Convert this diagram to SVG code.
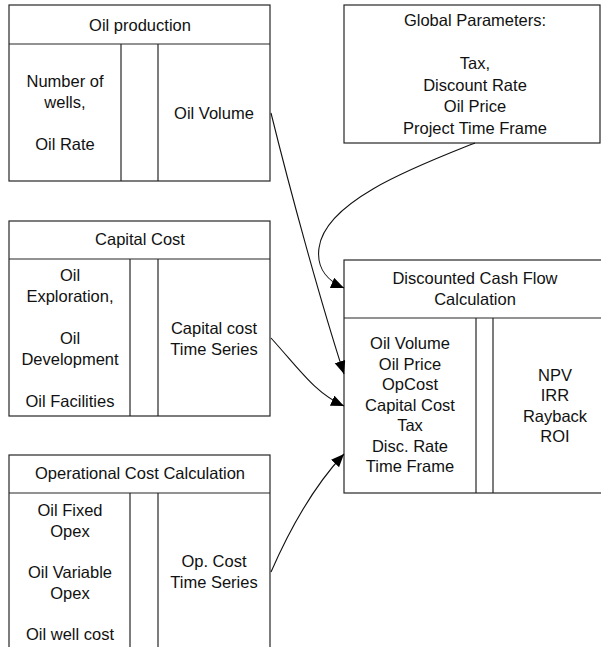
<svg xmlns="http://www.w3.org/2000/svg" width="601" height="647" viewBox="0 0 601 647">
  <style>
    .box { fill: #ffffff; stroke: #262626; stroke-width: 1.2; }
    .sep { fill: none; stroke: #262626; stroke-width: 1.2; }
    .lbl { font-family: "Liberation Sans", Arial, sans-serif; font-size: 16.5px; fill: #111111; text-anchor: middle; }
    .link { fill: none; stroke: #111111; stroke-width: 1.1; marker-end: url(#arrow); }
  </style>
  <defs>
    <marker id="arrow" markerUnits="userSpaceOnUse" markerWidth="14" markerHeight="12" refX="13" refY="5.5" orient="auto">
      <path d="M0,0 L13,5.5 L0,11 Z" fill="#000000"/>
    </marker>
  </defs>

  <rect width="601" height="647" fill="#ffffff"/>

  <!-- Oil production -->
  <g id="oil-production">
    <rect class="box" x="9" y="5" width="261" height="176"/>
    <path class="sep" d="M9,44 H270 M121,44 V181 M158,44 V181"/>
    <text class="lbl" x="140" y="31">Oil production</text>
    <text class="lbl" x="65" y="87">Number of</text>
    <text class="lbl" x="65" y="108">wells,</text>
    <text class="lbl" x="65" y="150">Oil Rate</text>
    <text class="lbl" x="214" y="119">Oil Volume</text>
  </g>

  <!-- Capital cost -->
  <g id="capital-cost">
    <rect class="box" x="9" y="221" width="261" height="195"/>
    <path class="sep" d="M9,259 H270 M130,259 V416 M158,259 V416"/>
    <text class="lbl" x="140" y="245">Capital Cost</text>
    <text class="lbl" x="70" y="281">Oil</text>
    <text class="lbl" x="70" y="302">Exploration,</text>
    <text class="lbl" x="70" y="344">Oil</text>
    <text class="lbl" x="70" y="365">Development</text>
    <text class="lbl" x="70" y="407">Oil Facilities</text>
    <text class="lbl" x="214" y="334">Capital cost</text>
    <text class="lbl" x="214" y="355">Time Series</text>
  </g>

  <!-- Operational cost calculation -->
  <g id="operational-cost">
    <rect class="box" x="9" y="455" width="261" height="200"/>
    <path class="sep" d="M9,493 H270 M130,493 V655 M158,493 V655"/>
    <text class="lbl" x="140" y="479">Operational Cost Calculation</text>
    <text class="lbl" x="70" y="516">Oil Fixed</text>
    <text class="lbl" x="70" y="537">Opex</text>
    <text class="lbl" x="70" y="578">Oil Variable</text>
    <text class="lbl" x="70" y="599">Opex</text>
    <text class="lbl" x="70" y="640">Oil well cost</text>
    <text class="lbl" x="214" y="567">Op. Cost</text>
    <text class="lbl" x="214" y="588">Time Series</text>
  </g>

  <!-- Global parameters -->
  <g id="global-parameters">
    <rect class="box" x="344" y="5" width="256" height="138"/>
    <text class="lbl" x="475" y="26">Global Parameters:</text>
    <text class="lbl" x="475" y="69">Tax,</text>
    <text class="lbl" x="475" y="90.5">Discount Rate</text>
    <text class="lbl" x="475" y="112">Oil Price</text>
    <text class="lbl" x="475" y="133.5">Project Time Frame</text>
  </g>

  <!-- Discounted cash flow calculation (runs past the right edge) -->
  <g id="dcf-calculation">
    <rect class="box" x="344" y="260" width="273" height="233"/>
    <path class="sep" d="M344,318 H617 M476,318 V493 M493,318 V493"/>
    <text class="lbl" x="475" y="284">Discounted Cash Flow</text>
    <text class="lbl" x="475" y="305">Calculation</text>
    <text class="lbl" x="410" y="349">Oil Volume</text>
    <text class="lbl" x="410" y="369.5">Oil Price</text>
    <text class="lbl" x="410" y="390">OpCost</text>
    <text class="lbl" x="410" y="410.5">Capital Cost</text>
    <text class="lbl" x="410" y="431">Tax</text>
    <text class="lbl" x="410" y="451.5">Disc. Rate</text>
    <text class="lbl" x="410" y="472">Time Frame</text>
    <text class="lbl" x="555" y="381">NPV</text>
    <text class="lbl" x="555" y="401">IRR</text>
    <text class="lbl" x="555" y="421.5">Rayback</text>
    <text class="lbl" x="555" y="442">ROI</text>
  </g>

  <!-- Connectors -->
  <g id="connectors">
    <path class="link" d="M271,113 C290,190 320,300 344,374"/>
    <path class="link" d="M271,338 C300,370 315,393 344,406"/>
    <path class="link" d="M271,572 C285,540 310,490 344,454"/>
    <path class="link" d="M475,143 C420,165 325,200 319,248 C316,270 330,282 344,288"/>
  </g>
</svg>
